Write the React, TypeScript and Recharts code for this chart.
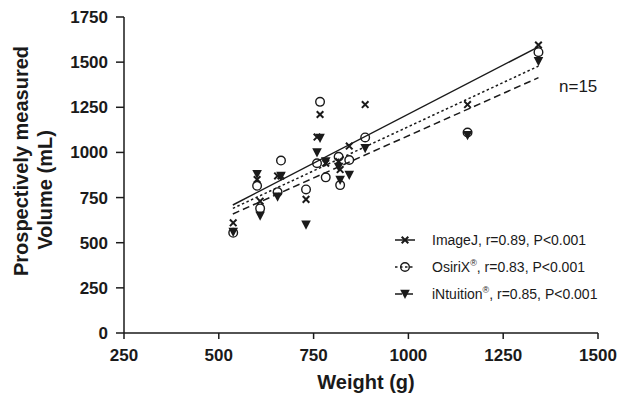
import React from 'react';
import { ScatterChart, Scatter, XAxis, YAxis, ReferenceLine, Legend } from 'recharts';

const weights = [538, 601, 609, 655, 664, 730, 759, 767, 782, 816, 820, 844, 886, 1156, 1343];
const imageJ = [610, 850, 730, 870, 870, 740, 1085, 1210, 940, 950, 905, 1035, 1265, 1265, 1595];
const osirix = [555, 815, 690, 780, 955, 795, 940, 1280, 862, 976, 819, 958, 1083, 1110, 1555];
const intuition = [560, 880, 650, 755, 870, 600, 1000, 1080, 950, 920, 847, 875, 1023, 1095, 1505];

const xTicks = [250, 500, 750, 1000, 1250, 1500];
const yTicks = [0, 250, 500, 750, 1000, 1250, 1500, 1750];

const fitImageJ = [{ x: 537, y: 709 }, { x: 1343, y: 1585 }];
const fitOsirix = [{ x: 537, y: 690 }, { x: 1343, y: 1478 }];
const fitIntuition = [{ x: 537, y: 659 }, { x: 1343, y: 1414 }];

const seriesNames = ['ImageJ', 'OsiriX', 'iNtuition'];
const seriesSup = ['', '®', '®'];
const seriesStats = [', r=0.89, P<0.001', ', r=0.83, P<0.001', ', r=0.85, P<0.001'];
const seriesDash = ['', '2.5 2.5', '7 4'];

const FONT = '"Liberation Sans", Arial, Helvetica, sans-serif';
const INK = '#1a1a1a';

const toPoints = (vals: number[]) => weights.map((w, i) => ({ x: w, y: vals[i] }));
const imageJData = toPoints(imageJ);
const osirixData = toPoints(osirix);
const intuitionData = toPoints(intuition);

const Cross = (props: any) => {
  const { cx, cy } = props;
  const s = 3.3;
  return (
    <path
      d={`M${cx - s},${cy - s}L${cx + s},${cy + s}M${cx + s},${cy - s}L${cx - s},${cy + s}`}
      stroke={INK}
      strokeWidth={2}
      fill="none"
    />
  );
};
const OpenCircle = (props: any) => {
  const { cx, cy } = props;
  return <circle cx={cx} cy={cy} r={4.3} fill="none" stroke={INK} strokeWidth={1.4} />;
};
const DownTriangle = (props: any) => {
  const { cx, cy } = props;
  return <path d={`M${cx - 4.8},${cy - 4.2}L${cx + 4.8},${cy - 4.2}L${cx},${cy + 5}Z`} fill={INK} />;
};

const shapes = [Cross, OpenCircle, DownTriangle];

const renderLegend = () => (
  <div style={{ fontFamily: FONT, fontSize: 14, color: INK }}>
    {seriesNames.map((name, i) => {
      const Shape = shapes[i];
      return (
        <div key={name} style={{ height: 27, display: 'flex', alignItems: 'center' }}>
          <svg width={22} height={14} style={{ display: 'block' }}>
            <line x1={0} y1={7} x2={20} y2={7} stroke={INK} strokeWidth={1.5} strokeDasharray={seriesDash[i] || undefined} />
            <Shape cx={10} cy={7} />
          </svg>
          <span style={{ marginLeft: 15, whiteSpace: 'nowrap' }}>
            {name}
            {seriesSup[i] ? <sup style={{ fontSize: 9, lineHeight: 0 }}>{seriesSup[i]}</sup> : null}
            {seriesStats[i]}
          </span>
        </div>
      );
    })}
  </div>
);

const renderYTitle = () => (
  <g fontFamily={FONT} fontWeight={700} fontSize={20} fill={INK}>
    <text x={28} y={161} transform="rotate(-90 28 161)" textAnchor="middle">
      Prospectively measured
    </text>
    <text x={52} y={190} transform="rotate(-90 52 190)" textAnchor="middle">
      Volume (mL)
    </text>
  </g>
);

const renderXTitle = () => (
  <text x={366} y={389} textAnchor="middle" fontFamily={FONT} fontWeight={700} fontSize={20} fill={INK}>
    Weight (g)
  </text>
);

export default function App() {
  return (
    <div style={{ position: 'absolute', left: 0, top: 0, width: 632, height: 400, background: '#fff' }}>
      <ScatterChart width={632} height={400} margin={{ top: 17, right: 34, bottom: 0, left: 0 }}>
        <XAxis
          type="number"
          dataKey="x"
          domain={[250, 1500]}
          ticks={xTicks}
          height={67}
          tickSize={6}
          tickMargin={10}
          axisLine={{ stroke: INK, strokeWidth: 1.5 }}
          tickLine={{ stroke: INK, strokeWidth: 1.5 }}
          tick={{ fontSize: 17, fontWeight: 700, fill: INK, fontFamily: FONT }}
          label={renderXTitle}
        />
        <YAxis
          type="number"
          dataKey="y"
          domain={[0, 1750]}
          ticks={yTicks}
          width={124}
          tickSize={8}
          tickMargin={8}
          axisLine={{ stroke: INK, strokeWidth: 1.5 }}
          tickLine={{ stroke: INK, strokeWidth: 1.5 }}
          tick={{ fontSize: 17, fontWeight: 700, fill: INK, fontFamily: FONT }}
          label={renderYTitle}
        />
        <ReferenceLine segment={fitImageJ} stroke={INK} strokeWidth={1.5} ifOverflow="visible" />
        <ReferenceLine segment={fitOsirix} stroke={INK} strokeWidth={1.5} strokeDasharray="2.5 2.5" ifOverflow="visible" />
        <ReferenceLine segment={fitIntuition} stroke={INK} strokeWidth={1.5} strokeDasharray="7 4" ifOverflow="visible" />
        <Scatter name={seriesNames[0]} data={imageJData} dataKey="y" shape={Cross} isAnimationActive={false} />
        <Scatter name={seriesNames[1]} data={osirixData} dataKey="y" shape={OpenCircle} isAnimationActive={false} />
        <Scatter name={seriesNames[2]} data={intuitionData} dataKey="y" shape={DownTriangle} isAnimationActive={false} />
        <Legend
          layout="vertical"
          align="center"
          verticalAlign="middle"
          wrapperStyle={{ left: 395, top: 226, width: 235, height: 81 }}
          content={renderLegend}
        />
      </ScatterChart>
      <div
        style={{
          position: 'absolute',
          left: 559,
          top: 77,
          fontFamily: FONT,
          fontSize: 17,
          color: INK,
          lineHeight: '20px',
        }}
      >
        n=15
      </div>
    </div>
  );
}
